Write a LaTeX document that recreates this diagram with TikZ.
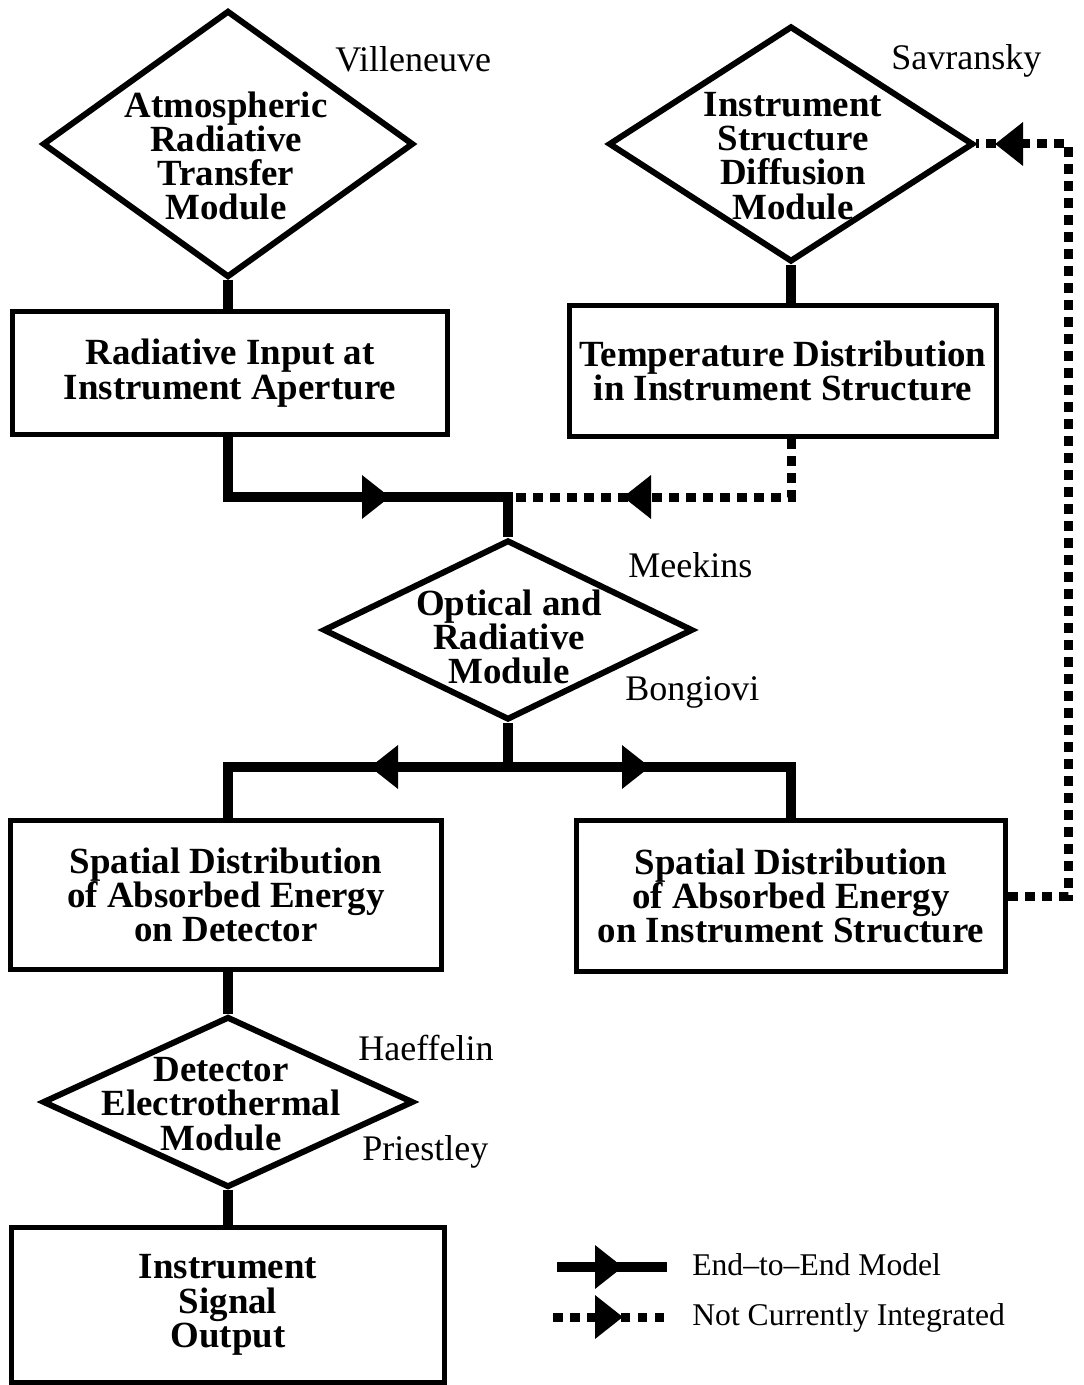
\documentclass[tikz,border=0pt]{standalone}
\usepackage{fontspec}
\setmainfont{Liberation Serif}
\usetikzlibrary{shapes.geometric,arrows.meta}
\tikzset{
  module/.style={diamond,draw,line width=0.12cm,inner sep=0pt},
  modtext/.style={align=center,font=\bfseries\fontsize{21}{19.5}\selectfont},
  stage/.style={rectangle,draw,line width=0.1cm,inner sep=0pt,align=center,font=\bfseries\fontsize{21}{19.5}\selectfont},
  author/.style={anchor=base west,inner sep=0pt,font=\fontsize{20.5}{24}\selectfont},
  keytext/.style={anchor=base west,inner sep=0pt,font=\fontsize{18}{22}\selectfont},
  flow/.style={line width=0.2cm},
  dots/.style={line width=0.18cm,dash pattern=on 0.19cm off 0.15cm},
  headonly/.style={line width=0.2cm,-{Triangle[length=0.56cm,width=0.84cm]}},
}
\begin{document}
\begin{tikzpicture}[x=0.02cm,y=-0.02cm]
  \useasboundingbox (0,0) rectangle (1084,1385);

  % Left column: atmosphere to aperture
  \node[module,minimum width=7.42cm,minimum height=5.34cm] (atm) at (228,144) {};
  \node[modtext] (atmtxt) at (226,156) {Atmospheric\\Radiative\\Transfer\\Module};
  \node[author] (vil) at (335,72) {Villeneuve};
  \node[stage,minimum width=8.7cm,minimum height=2.46cm] (ap) at (230,373) {Radiative Input at\\Instrument Aperture};

  % Right column: structure diffusion
  \node[module,minimum width=7.3cm,minimum height=4.72cm] (dif) at (791,144) {};
  \node[modtext] (diftxt) at (793,156) {Instrument\\Structure\\Diffusion\\Module};
  \node[author] (sav) at (891,70) {Savransky};
  \node[stage,minimum width=8.54cm,minimum height=2.64cm] (temp) at (783,371) {Temperature Distribution\\in Instrument Structure};

  % Middle: optical module
  \node[module,minimum width=7.4cm,minimum height=3.6cm] (opt) at (508,630) {};
  \node[modtext] (opttxt) at (509,637) {Optical and\\Radiative\\Module};
  \node[author] (mee) at (628,577) {Meekins};
  \node[author] (bon) at (625,700) {Bongiovi};

  % Absorbed energy
  \node[stage,minimum width=8.64cm,minimum height=3.0cm] (spd) at (226,895) {Spatial Distribution\\of Absorbed Energy\\on Detector};
  \node[stage,minimum width=8.6cm,minimum height=3.04cm] (sps) at (791,896) {Spatial Distribution\\of Absorbed Energy\\on Instrument Structure};

  % Detector and output
  \node[module,minimum width=7.42cm,minimum height=3.42cm] (det) at (228,1102) {};
  \node[modtext] (dettxt) at (221,1104) {Detector\\Electrothermal\\Module};
  \node[author] (hae) at (358,1060) {Haeffelin};
  \node[author] (pri) at (362,1160) {Priestley};
  \node[stage,minimum width=8.68cm,minimum height=3.1cm] (out) at (228,1305) {Instrument\\Signal\\Output};

  % Junctions and arrow points
  \coordinate (jtop) at (508,497);
  \coordinate (jbot) at (508,767);
  \coordinate (arrA) at (390,497);
  \coordinate (arrB) at (623,497);
  \coordinate (arrL) at (370,767);
  \coordinate (arrR) at (650,767);
  \coordinate (rc) at (1068,144);
  \coordinate (arrC) at (995,144);

  % Solid links
  \draw[flow] (atm.south) -- (atm.south |- ap.north);
  \draw[flow] (dif.south) -- (dif.south |- temp.north);
  \draw[flow] (ap.south -| atm.south) |- (jtop) -- (opt.north);
  \draw[flow] (opt.south) -- (jbot);
  \draw[flow] (spd.north -| atm.south) |- (jbot) -| (sps.north);
  \draw[flow] (spd.south -| atm.south) -- (det.north);
  \draw[flow] (det.south) -- (out.north);
  \draw[headonly] ([xshift=-0.56cm]arrA) -- (arrA);
  \draw[headonly] ([xshift=0.56cm]arrL) -- (arrL);
  \draw[headonly] ([xshift=-0.56cm]arrR) -- (arrR);

  % Dotted links
  \draw[dots] (dif.south |- temp.south) |- (jtop);
  \draw[dots] (sps.east) -| (rc) -- (dif.east);
  \draw[headonly] ([xshift=0.56cm]arrB) -- (arrB);
  \draw[headonly] ([xshift=0.56cm]arrC) -- (arrC);

  % Legend
  \coordinate (k1a) at (557,1267);
  \coordinate (k1t) at (623,1267);
  \coordinate (k1b) at (667,1267);
  \coordinate (k2a) at (553,1317);
  \coordinate (k2t) at (623,1317);
  \coordinate (k2b) at (667,1317);
  \draw[flow] (k1a) -- (k1b);
  \draw[dots] (k2a) -- (k2b);
  \draw[headonly] ([xshift=-0.56cm]k1t) -- (k1t);
  \draw[headonly] ([xshift=-0.56cm]k2t) -- (k2t);
  \node[keytext] (k1) at (692,1275) {End–to–End Model};
  \node[keytext] (k2) at (692,1325) {Not Currently Integrated};
\end{tikzpicture}
\end{document}
